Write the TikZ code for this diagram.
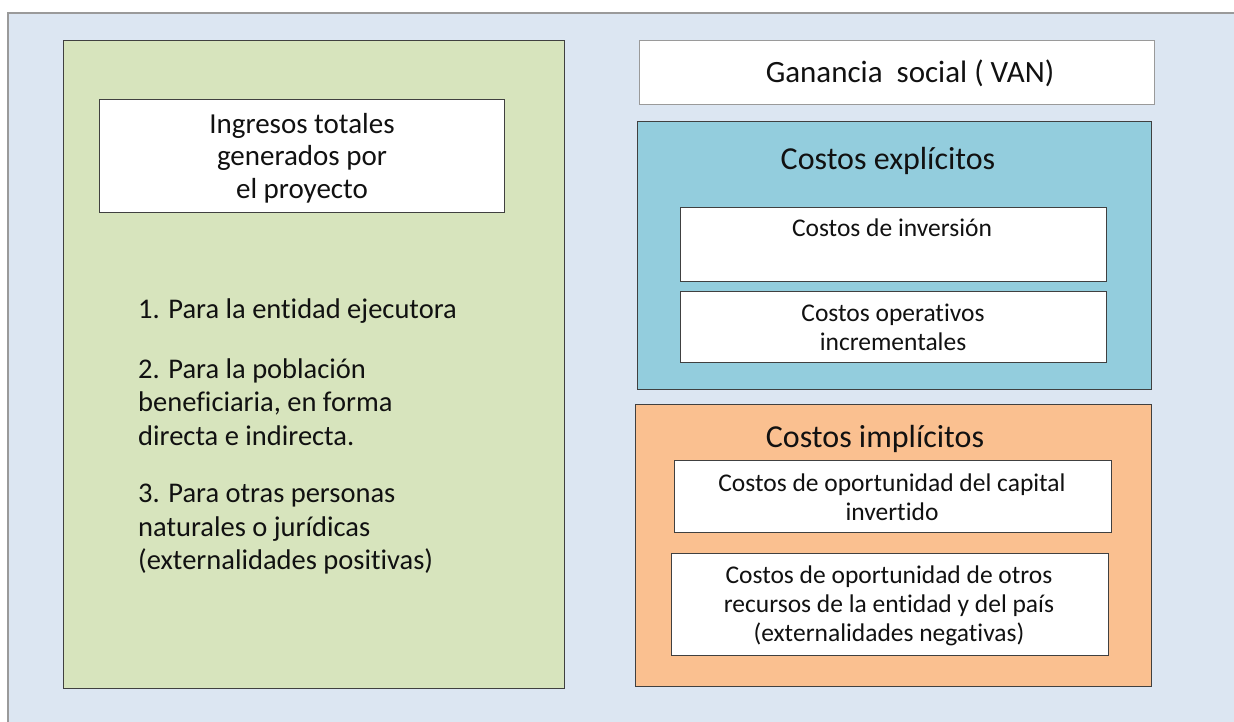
\documentclass[tikz,border=0pt]{standalone}
\usepackage{fontspec}
\setmainfont{Carlito}[Ligatures={NoCommon,NoRequired,NoContextual}]
\definecolor{bgblue}{HTML}{DCE6F2}
\definecolor{gfill}{HTML}{D7E4BD}
\definecolor{bfill}{HTML}{93CDDD}
\definecolor{ofill}{HTML}{FAC090}
\definecolor{boxline}{HTML}{404040}
\definecolor{frameline}{HTML}{9A9A9A}
\definecolor{txt}{HTML}{111111}
\begin{document}
\begin{tikzpicture}[x=1pt,y=-1pt,
  box/.style={draw=boxline, line width=1pt, inner sep=0pt, anchor=north west},
  lbl/.style={inner sep=0pt, text=txt, align=center},
  small/.style={lbl, font=\fontsize{25.5}{29}\selectfont},
  big/.style={lbl, font=\fontsize{32}{36}\selectfont},
  listitem/.style={inner sep=0pt, text=txt, align=left, anchor=west, font=\fontsize{28.5}{33.5}\selectfont}]
\useasboundingbox (0,0) rectangle (1234,722);
\fill[bgblue] (8,13) rectangle (1234,722);
\draw[frameline, line width=1.2pt] (8,722) -- (8,13) -- (1234,13);

% left green panel
\node[box, fill=gfill, minimum width=501pt, minimum height=648pt] (green) at (63,40) {};
\node[box, fill=white, minimum width=405pt, minimum height=113pt] (ingbox) at (99,99) {};
\node[lbl, font=\fontsize{29}{32.5}\selectfont] (ingtxt) at (302,158) {Ingresos totales\\generados por\\el proyecto};
\node[listitem] (item1) at (138,311.5) {1. Para la entidad ejecutora};
\node[listitem] (item2) at (138,402) {2. Para la población\\beneficiaria, en forma\\directa e indirecta.};
\node[listitem] (item3) at (138,529.5) {3. Para otras personas\\naturales o jurídicas\\(externalidades positivas)};

% Ganancia social
\node[box, draw=frameline, fill=white, minimum width=515pt, minimum height=64pt] (vanbox) at (639,40) {};
\node[lbl, font=\fontsize{31}{35}\selectfont] (vantxt) at (910,73) {Ganancia\ \ social ( VAN)};

% explicit costs
\node[box, fill=bfill, minimum width=514pt, minimum height=268pt] (expbox) at (637,121) {};
\node[big] (exptxt) at (888,160.5) {Costos explícitos};
\node[box, fill=white, minimum width=426pt, minimum height=74pt] (invbox) at (680,207) {};
\node[small] (invtxt) at (892,228) {Costos de inversión};
\node[box, fill=white, minimum width=426pt, minimum height=71pt] (opbox) at (680,291) {};
\node[small] (optxt) at (893,327.5) {Costos operativos\\incrementales};

% implicit costs
\node[box, fill=ofill, minimum width=516pt, minimum height=282pt] (impbox) at (635,404) {};
\node[big] (imptxt) at (875,438.5) {Costos implícitos};
\node[box, fill=white, minimum width=437pt, minimum height=72pt] (capbox) at (674,460) {};
\node[small] (captxt) at (892,497.5) {Costos de oportunidad del capital\\invertido};
\node[box, fill=white, minimum width=437pt, minimum height=102pt] (otrbox) at (671,553) {};
\node[small] (otrtxt) at (889,606) {Costos de oportunidad de otros\\recursos de la entidad y del país\\(externalidades negativas)};
\end{tikzpicture}
\end{document}
